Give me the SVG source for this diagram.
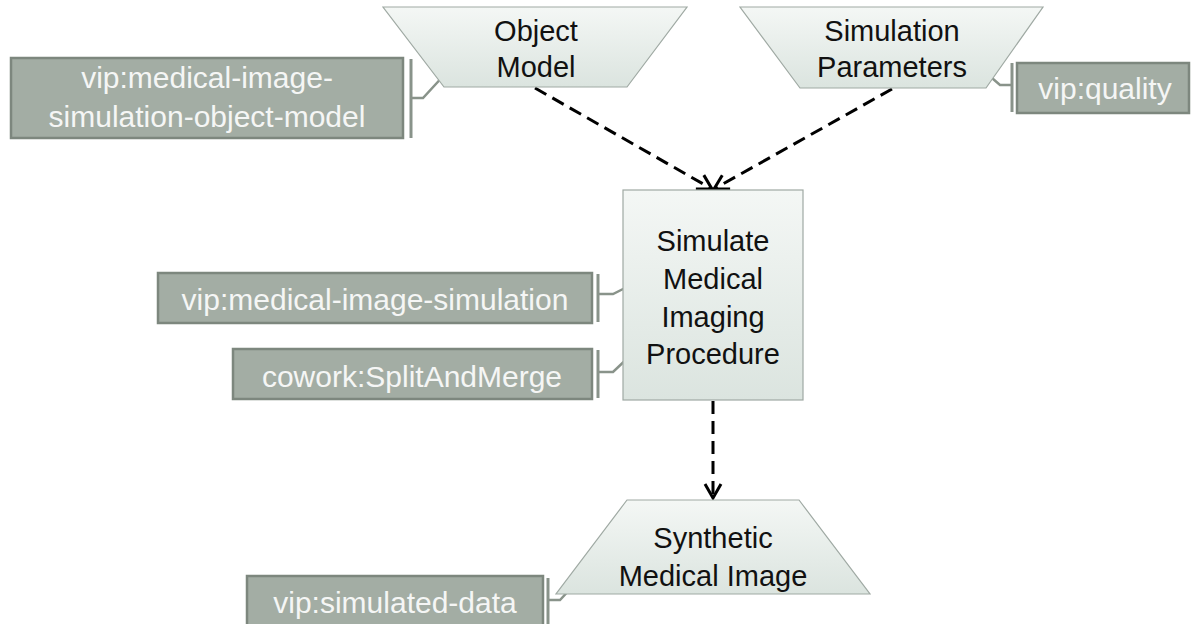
<svg xmlns="http://www.w3.org/2000/svg" width="1192" height="624" viewBox="0 0 1192 624">
<style>
.node{stroke:#9fa9a3;stroke-width:1.2;}
.lbl{font-family:"Liberation Sans",Arial,sans-serif;font-size:29px;fill:#111;text-anchor:middle;}
.tag{fill:#a3ada4;stroke:#7d877e;stroke-width:2.5;}
.tagt{font-family:"Liberation Sans",Arial,sans-serif;font-size:30px;fill:#f5f6f5;text-anchor:middle;}
.brk{fill:none;stroke:#89938a;stroke-width:3;}
.lnk{fill:none;stroke:#89938a;stroke-width:2.5;}
.flow{fill:none;stroke:#000;stroke-width:3;stroke-dasharray:13 7;}
</style>
<defs>
<linearGradient id="g" x1="0" y1="0" x2="0" y2="1">
<stop offset="0" stop-color="#f4f7f5"/>
<stop offset="1" stop-color="#dbe4df"/>
</linearGradient>
<marker id="ah" markerUnits="userSpaceOnUse" viewBox="-16 -10 20 20" refX="0" refY="0" markerWidth="20" markerHeight="20" orient="auto" overflow="visible">
<path d="M -14 -8 L 0 0 L -14 8" fill="none" stroke="#000" stroke-width="3" stroke-dasharray="none"/>
</marker>
</defs>
<rect width="1192" height="624" fill="#fff"/>

<g id="connectors">
<path class="flow" d="M 535 88 L 712 189" marker-end="url(#ah)"/>
<path class="flow" d="M 892 89 L 714 189" marker-end="url(#ah)"/>
<path class="flow" d="M 713 401 L 713 498" marker-end="url(#ah)"/>
<path class="lnk" d="M 446 73 L 423 98 L 411 98"/>
<path class="lnk" d="M 985 72 L 1000 85 L 1012 85"/>
<path class="lnk" d="M 631 285 L 613 294 L 598 294"/>
<path class="lnk" d="M 631 355 L 613 372 L 598 372"/>
<path class="lnk" d="M 572 587 L 560 600 L 548 600"/>
</g>

<g id="object-model">
<polygon class="node" fill="url(#g)" points="383,7 687,7 627,87 444,87"/>
<text class="lbl" x="536" y="41">Object</text>
<text class="lbl" x="536" y="77">Model</text>
</g>

<g id="simulation-parameters">
<polygon class="node" fill="url(#g)" points="740,7 1043,7 986,88 800,88"/>
<text class="lbl" x="892" y="41">Simulation</text>
<text class="lbl" x="892" y="77">Parameters</text>
</g>

<g id="simulate-procedure">
<rect class="node" fill="url(#g)" x="623" y="190" width="180" height="210"/>
<text class="lbl" x="713" y="251">Simulate</text>
<text class="lbl" x="713" y="289">Medical</text>
<text class="lbl" x="713" y="327">Imaging</text>
<text class="lbl" x="713" y="364">Procedure</text>
</g>

<g id="synthetic-medical-image">
<polygon class="node" fill="url(#g)" points="627,500 799,500 870,594 556,594"/>
<text class="lbl" x="713" y="548">Synthetic</text>
<text class="lbl" x="713" y="586">Medical Image</text>
</g>

<g id="tag-object-model">
<rect class="tag" x="11" y="58" width="392" height="80"/>
<text class="tagt" x="207" y="88">vip:medical-image-</text>
<text class="tagt" x="207" y="127">simulation-object-model</text>
<path class="brk" d="M 411 59 L 411 138"/>
</g>

<g id="tag-quality">
<rect class="tag" x="1017" y="63" width="172" height="50"/>
<text class="tagt" x="1105" y="99">vip:quality</text>
<path class="brk" d="M 1012 63 L 1012 112"/>
</g>

<g id="tag-simulation">
<rect class="tag" x="158" y="273" width="434" height="50"/>
<text class="tagt" x="375" y="310">vip:medical-image-simulation</text>
<path class="brk" d="M 598 274 L 598 322"/>
</g>

<g id="tag-splitandmerge">
<rect class="tag" x="233" y="349" width="359" height="50"/>
<text class="tagt" x="412" y="387">cowork:SplitAndMerge</text>
<path class="brk" d="M 598 350 L 598 398"/>
</g>

<g id="tag-simulated-data">
<rect class="tag" x="247" y="576" width="296" height="52"/>
<text class="tagt" x="395" y="613">vip:simulated-data</text>
<path class="brk" d="M 548 578 L 548 624"/>
</g>
</svg>
